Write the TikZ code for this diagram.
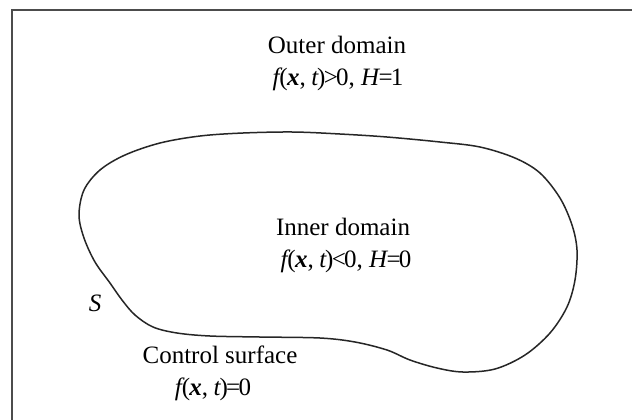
\documentclass[tikz,border=0pt]{standalone}
\usepackage{fontspec}
\setmainfont{Liberation Serif}
\newcommand{\fxt}{\textit{f}\kern-0.12em(\kern-0.03em\textbf{\textit{x}},\kern-0.03em\ \textit{t}\kern-0.06em)}
\newcommand{\tightrel}[1]{\kern-0.07em#1\kern-0.07em}
\begin{document}
\begin{tikzpicture}[x=0.5pt,y=-0.5pt,
  lbl/.style={anchor=base,inner sep=0pt,font=\fontsize{12.5}{15}\selectfont,text=black},
  frameline/.style={draw=black!70,line width=1pt},
  surf/.style={draw=black!85,line width=0.75pt}]
\useasboundingbox (0,0) rectangle (632,419);
\fill[white] (0,0) rectangle (632,419);
% frame (only top and left edges visible)
\draw[frameline] (12,440) -- (12,9.5) -- (650,9.5);
% control surface S
\draw[surf] plot[smooth cycle,tension=0.55] coordinates {
 (79,215) (84,190) (100,170) (125,155) (160,143) (200,136) (243,133) (293,132)
 (340,134) (387,137) (440,142) (480,147) (515,158) (540,173) (560,198) (572,225)
 (577,250) (575,280) (567,307) (550,333) (525,355) (495,369) (463,372) (437,368)
 (410,360) (387,350) (355,342) (320,338) (260,337) (210,336) (177,333) (153,327)
 (135,315) (122,300) (110,283) (95,262) (84,238)};
% labels
\node[lbl] (outer) at (337,53) {Outer domain};
\node[lbl] (outerf) at (338,85) {\fxt\tightrel{>}0, \textit{H}\tightrel{=}1};
\node[lbl] (inner) at (343,235) {Inner domain};
\node[lbl] (innerf) at (346,267) {\fxt\tightrel{<}0, \textit{H}\tightrel{=}0};
\node[lbl] (s) at (95,311) {\textit{S}};
\node[lbl] (ctrl) at (220,363) {Control surface};
\node[lbl] (ctrlf) at (213,395) {\fxt\tightrel{=}0};
\end{tikzpicture}
\end{document}
